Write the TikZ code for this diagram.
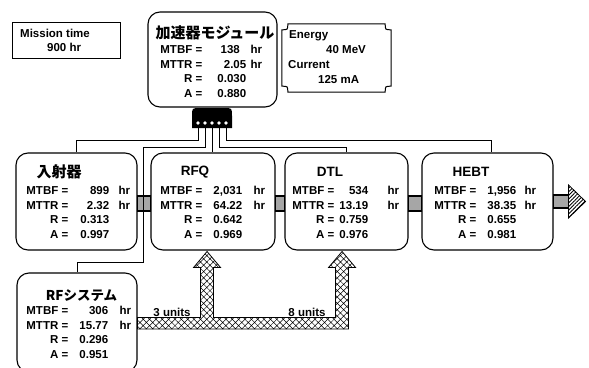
\documentclass[tikz,border=0pt]{standalone}
\usepackage{fontspec}
\setmainfont{Liberation Sans}
\newfontfamily\jpfont{Noto Sans CJK JP}
\usetikzlibrary{patterns,patterns.meta}

\tikzset{
  unitbox/.style={draw, line width=1.1pt, rounded corners=12pt, inner sep=0pt},
  datatext/.style={font=\bfseries\fontsize{11.5}{12}\selectfont, inner sep=0pt, text height=8.5pt, text depth=0pt},
  titletext/.style={font=\bfseries\fontsize{13.5}{15}\selectfont, inner sep=0pt},
  jptitle/.style={font=\jpfont\bfseries\fontsize{15}{17}\selectfont, inner sep=0pt},
  link/.style={draw, line width=1.1pt, fill=gray!70},
  wire/.style={line width=0.8pt},
}

% four rows of figures inside one box
\newcommand{\unitdata}[7]{%
  \node[datatext, anchor=east] (#1-mtbf) at ([xshift=#2pt,yshift=-38pt]#1.north west) {MTBF =};
  \node[datatext, anchor=east] (#1-mttr) at ([xshift=#2pt,yshift=-52.5pt]#1.north west) {MTTR =};
  \node[datatext, anchor=east] (#1-r) at ([xshift=#2pt,yshift=-67pt]#1.north west) {R =};
  \node[datatext, anchor=east] (#1-a) at ([xshift=#2pt,yshift=-81.5pt]#1.north west) {A =};
  \node[datatext, anchor=east] (#1-v1) at ([xshift=#3pt,yshift=-38pt]#1.north west) {#4};
  \node[datatext, anchor=east] (#1-v2) at ([xshift=#3pt,yshift=-52.5pt]#1.north west) {#5};
  \node[datatext, anchor=east] (#1-v3) at ([xshift=#3pt,yshift=-67pt]#1.north west) {#6};
  \node[datatext, anchor=east] (#1-v4) at ([xshift=#3pt,yshift=-81.5pt]#1.north west) {#7};
  \node[datatext, anchor=west] (#1-h1) at ([xshift=103pt,yshift=-38pt]#1.north west) {hr};
  \node[datatext, anchor=west] (#1-h2) at ([xshift=103pt,yshift=-52.5pt]#1.north west) {hr};
}

\begin{document}
\begin{tikzpicture}[x=1pt,y=-1pt]
  \clip (0,0) rectangle (589,367);

  % mission time
  \node[draw, line width=0.9pt, minimum width=108pt, minimum height=36pt, inner sep=0pt] (mission) at (66,40) {};
  \node[datatext, anchor=west] (mission-a) at (20,33) {Mission time};
  \node[datatext, anchor=west] (mission-b) at (47,47) {900 hr};

  % accelerator module
  \node[unitbox, minimum width=129pt, minimum height=95pt] (acc) at (212.5,59.5) {};
  \node[jptitle] (acc-title) at (215,33) {加速器モジュール};
  \unitdata{acc}{55}{99}{138\hphantom{0}}{2.05}{0.030}{0.880}

  % beam data
  \node[minimum width=109pt, minimum height=68pt, inner sep=0pt] (energy) at (336.5,58) {};
  \draw[line width=1pt] ([xshift=6pt]energy.north west) -- ([xshift=-6pt]energy.north east)
    .. controls ([xshift=-6pt,yshift=-6pt]energy.north east) .. ([yshift=-6pt]energy.north east)
    -- ([yshift=6pt]energy.south east)
    .. controls ([xshift=-6pt,yshift=6pt]energy.south east) .. ([xshift=-6pt]energy.south east)
    -- ([xshift=6pt]energy.south west)
    .. controls ([xshift=6pt,yshift=6pt]energy.south west) .. ([yshift=6pt]energy.south west)
    -- ([yshift=-6pt]energy.north west)
    .. controls ([xshift=6pt,yshift=-6pt]energy.north west) .. ([xshift=6pt]energy.north west) -- cycle;
  \node[datatext, anchor=west, text depth=2pt] (energy-a) at (289,35) {Energy};
  \node[datatext, anchor=west] (energy-b) at (326,49) {40 MeV};
  \node[datatext, anchor=west] (energy-c) at (288,64) {Current};
  \node[datatext, anchor=west] (energy-d) at (318,79) {125 mA};

  % main line
  \node[unitbox, minimum width=121pt, minimum height=97pt] (inj) at (76.5,201.5) {};
  \node[unitbox, minimum width=124pt, minimum height=97pt] (rfq) at (213,201.5) {};
  \node[unitbox, minimum width=123pt, minimum height=97pt] (dtl) at (346.5,201.5) {};
  \node[unitbox, minimum width=131pt, minimum height=97pt] (hebt) at (487.5,201.5) {};
  \node[jptitle] (inj-title) at (59,172) {入射器};
  \node[titletext] (rfq-title) at (195,172) {RFQ};
  \node[titletext] (dtl-title) at (330,172) {DTL};
  \node[titletext] (hebt-title) at (471,172) {HEBT};
  \unitdata{inj}{53}{94}{899}{2.32}{0.313}{0.997}
  \unitdata{rfq}{52}{92}{2,031}{64.22}{0.642}{0.969}
  \unitdata{dtl}{50}{84}{534}{13.19}{0.759}{0.976}
  \unitdata{hebt}{55}{95}{1,956}{38.35}{0.655}{0.981}

  % RF system
  \node[unitbox, minimum width=120pt, minimum height=99pt] (rfs) at (77,322.5) {};
  \node[jptitle, font=\jpfont\bfseries\fontsize{13.5}{15}\selectfont] (rfs-title) at (81.5,296) {RFシステム};
  \unitdata{rfs}{52}{92}{306}{15.77}{0.296}{0.951}

  % links between units
  \draw[link] ([yshift=5.5pt]inj.east) rectangle ([yshift=-9.5pt]rfq.west);
  \draw[link] ([yshift=5.5pt]rfq.east) rectangle ([yshift=-9.5pt]dtl.west);
  \draw[link] ([yshift=5.5pt]dtl.east) rectangle ([yshift=-9.5pt]hebt.west);
  \coordinate (out) at ([xshift=15pt]hebt.east);
  \draw[link] ([yshift=6.5pt]hebt.east) rectangle ([yshift=-6.5pt]out);
  \draw[line width=0.8pt, pattern={Lines[angle=45,distance=2.6pt,line width=0.9pt]}]
    ([yshift=6.5pt]out) -- ([yshift=16.5pt]out) -- ([xshift=17pt]out)
    -- ([yshift=-16.5pt]out) -- ([yshift=-6.5pt]out) -- cycle;

  % RF power feed
  \draw[line width=0.8pt, pattern={Hatch[angle=45,distance=4.5pt,line width=0.5pt]}]
    ([yshift=5pt]rfs.east) -- ++(63,0) -- ++(0,-50)
    -- ++(-7,0) -- ++(13.5,-16) -- ++(13.5,16) -- ++(-7,0) -- ++(0,50) -- ++(122,0)
    -- ++(0,-50) -- ++(-7,0) -- ++(13.5,-16) -- ++(13.5,16) -- ++(-7,0) -- ++(0,61.5)
    -- ++(-211,0) -- cycle;
  \node[datatext] (units3) at (172,312) {3 units};
  \node[datatext] (units8) at (307,312) {8 units};

  % hub and wires
  \coordinate (hub) at (212,128);
  \coordinate (rfbend) at (143,262);
  \draw[wire] ([xshift=-14pt]hub) -- ++(0,12) -| (inj.north);
  \draw[wire] ([xshift=-7pt]hub) -- ++(0,19) -| (rfbend) -| (rfs.north);
  \draw[wire] (hub) -- (hub |- rfq.north);
  \draw[wire] ([xshift=7pt]hub) -- ++(0,19) -| (dtl.north);
  \draw[wire] ([xshift=14pt]hub) -- ++(0,12) -| ([xshift=4pt]hebt.north);
  \fill (192,128) -- (192,116) .. controls (192,108) .. (200,108) -- (224,108)
    .. controls (232,108) .. (232,116) -- (232,128) -- cycle;
  \foreach \x in {198,205,212,219,226}
    \fill[white] (\x,123) circle (1.9pt);
\end{tikzpicture}
\end{document}
